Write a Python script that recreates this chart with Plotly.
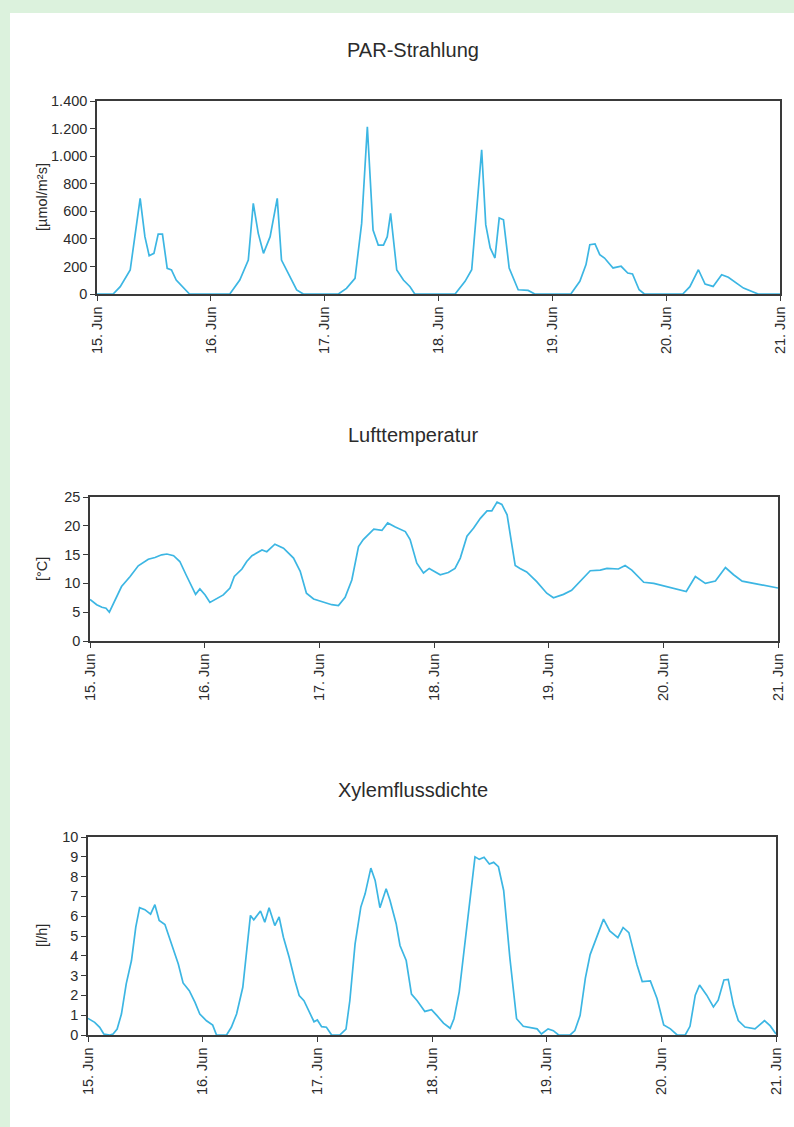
import plotly.graph_objects as go

W, H = 794, 1127

# ---------------- data (hours since 15 Jun 00:00) ----------------
day_ticks = [0, 24, 48, 72, 96, 120, 144]
day_labels = ["15. Jun", "16. Jun", "17. Jun", "18. Jun", "19. Jun", "20. Jun", "21. Jun"]

par_hours = [0, 3.4, 4.9, 7.0, 9.1, 10.1, 11.0, 12.0, 12.9, 13.8, 14.8, 15.7, 16.7, 18.1, 19.5,
             28.0, 30.1, 31.9, 32.95, 34.0, 35.1, 36.5, 38.0, 38.9, 40.3, 42.1, 43.5,
             50.9, 52.6, 54.4, 55.8, 57.0, 58.2, 59.3, 60.4, 61.2, 61.9, 63.2, 64.6, 66.0, 67.0,
             75.5, 77.6, 79.0, 81.1, 81.96, 82.9, 83.9, 84.8, 85.7, 86.9, 88.8, 90.9, 92.3,
             99.9, 101.8, 103.1, 103.9, 105.0, 106.0, 107.0, 108.8, 110.5, 111.9, 112.9, 114.3, 115.4,
             123.5, 125.0, 126.8, 128.2, 129.9, 131.7, 133.1, 136.3, 139.4, 144]
par_values = [0, 0, 53, 174, 694, 416, 278, 295, 435, 435, 186, 174, 101, 53, 0,
              0, 101, 246, 657, 440, 295, 416, 694, 246, 150, 29, 0,
              0, 41, 114, 512, 1213, 464, 355, 355, 416, 585, 174, 101, 53, 0,
              0, 92, 176, 1046, 503, 334, 261, 551, 538, 189, 31, 26, 0,
              0, 92, 213, 358, 363, 285, 261, 189, 201, 152, 145, 31, 0,
              0, 53, 176, 72, 55, 140, 121, 43, 0, 0]
par_tickvals = [0, 200, 400, 600, 800, 1000, 1200, 1400]
par_ticktext = ["0", "200", "400", "600", "800", "1.000", "1.200", "1.400"]

temp_hours = [0, 1.4, 2.5, 3.35, 4.05, 5.2, 6.6, 8.4, 10.1, 12.2, 13.6, 15.0, 16.1, 17.5, 18.8,
              20.1, 21.3, 22.1, 23.0, 24.1, 25.1, 26.5, 27.9, 29.3, 30.2, 31.8, 32.8, 33.9, 36.0,
              37.0, 38.7, 40.5, 42.6, 44.0, 45.3, 46.8, 48.9, 50.6, 52.0, 53.4, 54.8, 56.2, 57.2,
              59.4, 61.1, 62.3, 63.9, 66.0, 67.0, 68.4, 69.8, 71.0, 73.3, 75.0, 76.4, 77.5, 78.9,
              80.3, 81.7, 83.1, 84.1, 85.2, 86.2, 87.3, 88.3, 89.0, 90.0, 91.4, 93.5, 95.6, 97.0,
              99.1, 100.8, 102.6, 104.7, 106.8, 108.2, 110.6, 112.0, 113.4, 115.9, 118.0, 120.8,
              122.9, 124.8, 126.7, 128.8, 130.9, 133.0, 134.7, 136.5, 138.9, 141.0, 144.0]
temp_values = [7.2, 6.3, 5.85, 5.7, 5.0, 7.1, 9.45, 11.2, 13.05, 14.2, 14.5, 14.96, 15.1, 14.8, 13.8,
               11.5, 9.45, 8.1, 9.05, 8.0, 6.7, 7.4, 8.0, 9.2, 11.2, 12.5, 13.8, 14.8, 15.8,
               15.5, 16.8, 16.1, 14.4, 12.1, 8.3, 7.3, 6.7, 6.3, 6.15, 7.6, 10.6, 16.4, 17.6,
               19.4, 19.2, 20.5, 19.8, 19.0, 17.6, 13.5, 11.8, 12.6, 11.5, 11.9, 12.6, 14.4, 18.2,
               19.6, 21.3, 22.6, 22.6, 24.1, 23.7, 21.9, 16.7, 13.1, 12.6, 12.0, 10.3, 8.3, 7.5,
               8.1, 8.8, 10.3, 12.2, 12.3, 12.6, 12.5, 13.1, 12.3, 10.2, 10.0, 9.4,
               8.9, 8.6, 11.2, 10.0, 10.4, 12.75, 11.5, 10.4, 10.0, 9.7, 9.2]

xyl_hours = [0, 1.4, 2.45, 3.3, 4.55, 5.25, 6.1, 7.0, 8.0, 9.1, 10.0, 10.8, 11.9, 13.1, 14.0, 14.9,
             16.1, 17.5, 18.9, 19.9, 21.2, 22.4, 23.4, 24.8, 26.1, 26.9, 29.0, 30.0, 31.1, 32.4,
             33.2, 34.0, 34.7, 36.1, 37.0, 37.9, 39.1, 40.0, 40.9, 42.1, 43.3, 44.2, 45.2, 46.4,
             47.3, 48.0, 48.9, 49.9, 51.0, 52.7, 54.0, 54.8, 55.9, 57.1, 58.0, 59.2, 60.1, 61.1,
             62.4, 63.2, 64.5, 65.3, 66.6, 67.7, 68.9, 70.5, 71.9, 73.0, 74.4, 75.8, 76.6, 77.7,
             78.9, 80.0, 81.0, 81.9, 82.9, 84.0, 84.9, 85.9, 87.0, 88.3, 89.7, 91.1, 92.9, 94.0,
             94.9, 96.3, 97.4, 98.5, 100.9, 101.9, 103.0, 104.1, 105.1, 106.5, 107.9, 109.2,
             110.9, 112.0, 113.2, 114.9, 116.0, 117.7, 119.1, 120.5, 121.9, 123.3, 125.0, 126.0,
             127.1, 128.0, 129.5, 130.9, 131.9, 133.1, 134.0, 135.1, 136.1, 137.5, 139.6, 141.6,
             142.8, 144.0]
xyl_values = [0.84, 0.64, 0.39, 0.05, 0, 0.05, 0.3, 1.06, 2.58, 3.76, 5.45, 6.43, 6.33, 6.1, 6.58, 5.78,
              5.58, 4.6, 3.59, 2.63, 2.24, 1.65, 1.06, 0.72, 0.5, 0, 0, 0.39, 1.06, 2.41,
              4.1, 6.04, 5.82, 6.26, 5.7, 6.43, 5.53, 5.96, 4.94, 3.93, 2.75, 1.99, 1.73, 1.09,
              0.67, 0.76, 0.42, 0.39, 0, 0, 0.3, 1.73, 4.6, 6.46, 7.13, 8.43, 7.81, 6.43,
              7.39, 6.8, 5.62, 4.52, 3.76, 2.07, 1.73, 1.19, 1.28, 0.99, 0.6, 0.34, 0.82, 2.18,
              4.57, 6.96, 9.0, 8.87, 8.98, 8.64, 8.72, 8.5, 7.3, 3.89, 0.82, 0.44, 0.34, 0.31,
              0.05, 0.31, 0.22, 0, 0, 0.22, 0.99, 2.87, 4.06, 5.0, 5.85, 5.26,
              4.92, 5.43, 5.17, 3.55, 2.7, 2.73, 1.84, 0.51, 0.31, 0, 0, 0.44,
              2.01, 2.52, 2.01, 1.42, 1.76, 2.78, 2.81, 1.5, 0.73, 0.4, 0.31, 0.73,
              0.46, 0.05]

titles = ["PAR-Strahlung", "Lufttemperatur", "Xylemflussdichte"]
ylabels = ["[µmol/m²s]", "[°C]", "[l/h]"]

# ---------------- layout helpers ----------------
def px_x(p):
    return p / W

def px_y(p):
    return 1 - p / H

LINE = "#3cb6e3"
AX = "#3a3a3a"
TXT = "#2b2b2b"
FONT = "Liberation Sans, Arial, sans-serif"
TICKF = 14.5

panels = [
    dict(x=(97, 780), y=(101, 294), xs=par_hours, ys=par_values, yr=[0, 1400],
         yt=dict(tickvals=par_tickvals, ticktext=par_ticktext), title_y=50, ylab_y=197),
    dict(x=(90, 778), y=(497, 641), xs=temp_hours, ys=temp_values, yr=[0, 25],
         yt=dict(tickvals=[0, 5, 10, 15, 20, 25]), title_y=435, ylab_y=569),
    dict(x=(88, 776), y=(837, 1035), xs=xyl_hours, ys=xyl_values, yr=[0, 10],
         yt=dict(tickvals=list(range(0, 11))), title_y=790, ylab_y=936),
]

fig = go.Figure()
layout = dict(
    width=W, height=H,
    margin=dict(l=0, r=0, t=0, b=0, autoexpand=False),
    paper_bgcolor="#dcf2dd",
    plot_bgcolor="white",
    showlegend=False,
    font=dict(family=FONT, color=TXT, size=13),
    shapes=[dict(type="rect", xref="paper", yref="paper", x0=10 / W, x1=1.0,
                 y0=0.0, y1=1 - 13 / H, fillcolor="white", line=dict(width=0), layer="below")],
    annotations=[],
)

for i, p in enumerate(panels):
    n = "" if i == 0 else str(i + 1)
    m = str(i + 4)  # overlay axes for inward half of crossing ticks
    xdom = [px_x(p["x"][0]), px_x(p["x"][1])]
    ydom = [px_y(p["y"][1]), px_y(p["y"][0])]
    fig.add_trace(go.Scatter(x=p["xs"], y=p["ys"], mode="lines", xaxis="x" + n, yaxis="y" + n,
                             line=dict(color=LINE, width=1.7), hoverinfo="skip"))
    layout["xaxis" + n] = dict(
        domain=xdom, anchor="y" + n, automargin=False,
        range=[0, 144], tickvals=day_ticks, ticktext=day_labels, tickangle=-90,
        showgrid=False, zeroline=False, showline=True, linecolor=AX, linewidth=1.5,
        mirror=True, ticks="outside", ticklen=5, tickcolor=AX, tickwidth=1.3,
        tickfont=dict(size=TICKF, color=TXT),
    )
    layout["yaxis" + n] = dict(
        domain=ydom, anchor="x" + n, automargin=False,
        range=p["yr"], showgrid=False, zeroline=False, showline=True, linecolor=AX,
        linewidth=1.5, mirror=True, ticks="outside", ticklen=5, tickcolor=AX, tickwidth=1.3,
        tickfont=dict(size=TICKF, color=TXT), **p["yt"],
    )
    layout["xaxis" + m] = dict(
        domain=xdom, anchor="y" + n, overlaying="x" + n, side="bottom", automargin=False,
        range=[0, 144], tickvals=day_ticks, showticklabels=False, showgrid=False,
        zeroline=False, showline=False, ticks="inside", ticklen=4, tickcolor=AX, tickwidth=1.3,
    )
    layout["yaxis" + m] = dict(
        domain=ydom, anchor="x" + n, overlaying="y" + n, side="left", automargin=False,
        range=p["yr"], tickvals=p["yt"]["tickvals"], showticklabels=False, showgrid=False,
        zeroline=False, showline=False, ticks="inside", ticklen=4, tickcolor=AX, tickwidth=1.3,
    )
    layout["annotations"].append(dict(
        text=titles[i], xref="paper", yref="paper", x=px_x(413), y=px_y(p["title_y"]),
        showarrow=False, font=dict(size=20, color=TXT), xanchor="center", yanchor="middle"))
    layout["annotations"].append(dict(
        text=ylabels[i], xref="paper", yref="paper", x=px_x(42), y=px_y(p["ylab_y"]),
        showarrow=False, textangle=-90, font=dict(size=TICKF, color=TXT),
        xanchor="center", yanchor="middle"))

fig.update_layout(**layout)
fig.write_html("out.html")
